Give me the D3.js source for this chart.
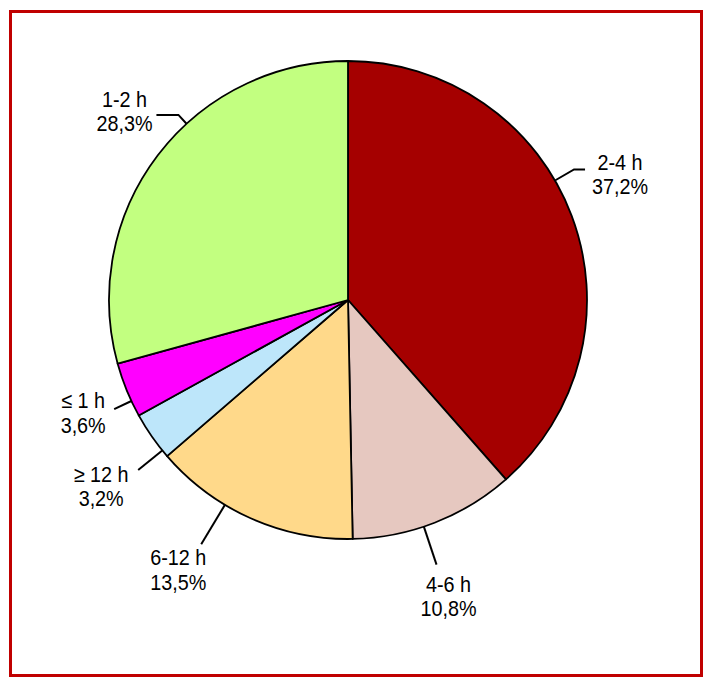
<!DOCTYPE html>
<html>
<head>
<meta charset="utf-8">
<script src="https://cdn.jsdelivr.net/npm/d3@7"></script>
<style>
  body { margin: 0; background: #fff; }
  svg text { font-family: "Liberation Sans", Arial, sans-serif; font-size: 22px; fill: #000; }
</style>
</head>
<body>
<div class="res"></div>
<script>
// slices, clockwise from 12 o'clock
const categories = ['2-4 h', '4-6 h', '6-12 h', '≥ 12 h', '≤ 1 h', '1-2 h'];
const values = [37.2, 10.8, 13.5, 3.2, 3.6, 28.3];
const colours = ['#a50000', '#e6c8c0', '#ffd98a', '#bde6fa', '#ff00ff', '#c2ff80'];

// label placement: leader angle (deg), leader length end radius, horizontal elbow, text offset
const labelLayout = [
    { angle: 60, r2: 261, hx: 11, tx: 35, ty: 0 },
    { angle: 161.5, r2: 279, hx: 0, tx: 12, ty: 27 },
    { angle: 211, r2: 285, hx: 0, tx: -23, ty: 21 },
    { angle: 231, r2: 270, hx: 0, tx: -37, ty: 12 },
    { angle: 245, r2: 258, hx: 0, tx: -31, ty: -1 },
    { angle: 317.5, r2: 251, hx: -22, tx: -32, ty: -8 }
];

const width = 711;
const height = 686;
const cx = 348, cy = 300, radius = 239;
const lineGap = 24.5;
const narrow = 0.9; // squeeze text to look like a condensed face

const svg = d3.select('div.res')
    .append('svg')
    .attr('width', width)
    .attr('height', height)
    .style('display', 'block');

// frame
svg.append('rect')
    .attr('x', 10.5)
    .attr('y', 11.5)
    .attr('width', 691)
    .attr('height', 664)
    .attr('fill', 'none')
    .attr('stroke', '#c00000')
    .attr('stroke-width', 3);

const g = svg.append('g')
    .attr('transform', `translate(${cx}, ${cy})`);

const pie = d3.pie().sort(null).value(d => d);
const arcs = pie(values);
const arc = d3.arc().innerRadius(0).outerRadius(radius);

g.selectAll('path.slice')
    .data(arcs)
    .enter().append('path')
    .attr('class', 'slice')
    .attr('d', arc)
    .attr('fill', (d, i) => colours[i])
    .attr('stroke', '#000')
    .attr('stroke-width', 1.8)
    .attr('stroke-linejoin', 'round');

// point on a circle of radius r at angle a (deg clockwise from top)
function polar(a, r) {
    const t = a * Math.PI / 180;
    return [r * Math.sin(t), -r * Math.cos(t)];
}

const fmt = v => d3.format('.1f')(v).replace('.', ',') + '%';

labelLayout.forEach((l, i) => {
    const p0 = polar(l.angle, radius);
    const p1 = polar(l.angle, l.r2);
    const pts = [p0, p1];
    if (l.hx) pts.push([p1[0] + l.hx, p1[1]]);
    const end = pts[pts.length - 1];

    g.append('path')
        .attr('d', d3.line()(pts))
        .attr('fill', 'none')
        .attr('stroke', '#000')
        .attr('stroke-width', 2);

    const t = g.append('g')
        .attr('transform', `translate(${end[0] + l.tx}, ${end[1] + l.ty}) scale(${narrow}, 1)`)
        .append('text')
        .attr('text-anchor', 'middle');
    t.append('tspan')
        .attr('x', 0)
        .text(categories[i]);
    t.append('tspan')
        .attr('x', 0)
        .attr('dy', lineGap)
        .text(fmt(values[i]));
});
</script>
</body>
</html>
